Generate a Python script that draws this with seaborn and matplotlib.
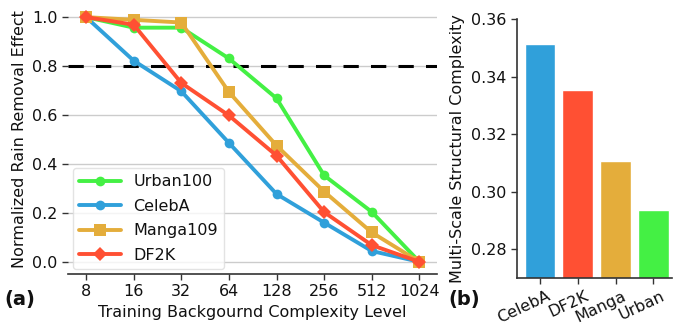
import numpy as np
import pandas as pd
import matplotlib
matplotlib.use("Agg")
import matplotlib.pyplot as plt
import matplotlib.transforms as mtransforms
import seaborn as sns

# --- data ---
levels = ["8", "16", "32", "64", "128", "256", "512", "1024"]
urban100 = [1.0, 0.957, 0.957, 0.831, 0.668, 0.353, 0.204, 0.0]
celeba = [1.0, 0.822, 0.697, 0.486, 0.277, 0.160, 0.044, 0.0]
manga109 = [1.0, 0.989, 0.978, 0.694, 0.475, 0.287, 0.120, 0.0]
df2k = [1.0, 0.969, 0.731, 0.598, 0.434, 0.203, 0.068, 0.0]

bar_names = ["CelebA", "DF2K", "Manga", "Urban"]
bar_values = [0.3514, 0.3354, 0.3108, 0.2937]

GREEN = "#44F044"
BLUE = "#30A0DA"
ORANGE = "#E4AD3B"
RED = "#FF5033"
FS = 11.5

sns.set_style("white")
plt.rcParams["font.family"] = ["DejaVu Sans"]
plt.rcParams["font.size"] = FS
plt.rcParams["text.color"] = "#111111"
plt.rcParams["axes.labelcolor"] = "#111111"

fig = plt.figure(figsize=(6.75, 3.27), dpi=100)
ax = fig.add_axes([0.1007, 0.162, 0.546, 0.823])
bx = fig.add_axes([0.766, 0.150, 0.230, 0.792])

# panel (a)
pos = np.arange(len(levels))
series = [
    ("Urban100", urban100, GREEN, "o", 7),
    ("CelebA", celeba, BLUE, "o", 7),
    ("Manga109", manga109, ORANGE, "s", 8),
    ("DF2K", df2k, RED, "D", 7.5),
]
for name, vals, col, mk, ms in series:
    sns.lineplot(x=pos, y=vals, color=col, marker=mk, markersize=ms,
                 markeredgewidth=0, linewidth=2.8, label=name, ax=ax)

ax.axhline(0.8, color="black", linestyle=(0, (5, 4)), linewidth=2.2, zorder=1)
ax.set_xlim(-0.38, 7.36)
ax.set_ylim(-0.05, 1.05)
ax.set_yticks([0.0, 0.2, 0.4, 0.6, 0.8, 1.0])
ax.set_xticks(pos)
ax.set_xticklabels(levels)
ax.yaxis.grid(True, color="#cccccc", linewidth=1)
ax.set_axisbelow(True)
for s in ["top", "right", "left"]:
    ax.spines[s].set_visible(False)
ax.spines["bottom"].set_color("#333333")
ax.spines["bottom"].set_linewidth(1.2)
ax.tick_params(axis="both", which="both", direction="out", length=4,
               width=1, colors="#333333", labelcolor="#111111", labelsize=FS,
               left=True, bottom=True)
ax.set_xlabel("Training Backgournd Complexity Level", fontsize=FS)
ax.set_ylabel("Normalized Rain Removal Effect", fontsize=FS)
leg = ax.legend(loc="lower left", fontsize=FS, handlelength=2.6,
                labelspacing=0.6, borderaxespad=0.3, frameon=True,
                fancybox=True)
leg.get_frame().set_edgecolor("#dddddd")

# panel (b)
sns.barplot(x=bar_names, y=bar_values, hue=bar_names,
            palette=[BLUE, RED, ORANGE, GREEN], legend=False,
            width=0.8, saturation=1, ax=bx)
bx.set_ylim(0.27, 0.36)
bx.set_xlim(-0.6, 3.5)
bx.set_yticks([0.28, 0.30, 0.32, 0.34, 0.36])
bx.set_yticklabels(["0.28", "0.30", "0.32", "0.34", "0.36"])
for s in ["top", "right"]:
    bx.spines[s].set_visible(False)
for s in ["left", "bottom"]:
    bx.spines[s].set_color("#333333")
    bx.spines[s].set_linewidth(1.2)
bx.tick_params(axis="both", direction="out", length=4, width=1,
               colors="#333333", labelcolor="#111111", labelsize=FS,
               left=True, bottom=True)
shift = mtransforms.ScaledTranslation(7 / 100, 0, fig.dpi_scale_trans)
for lab in bx.get_xticklabels():
    lab.set_rotation(25)
    lab.set_ha("right")
    lab.set_rotation_mode("anchor")
    lab.set_transform(lab.get_transform() + shift)
bx.set_xlabel("")
bx.set_ylabel("Multi-Scale Structural Complexity", fontsize=FS)

fig.text(0.006, 0.085, "(a)", fontsize=14, fontweight="bold", va="center")
fig.text(0.665, 0.085, "(b)", fontsize=14, fontweight="bold", va="center")

fig.savefig("out.png", dpi=100)
